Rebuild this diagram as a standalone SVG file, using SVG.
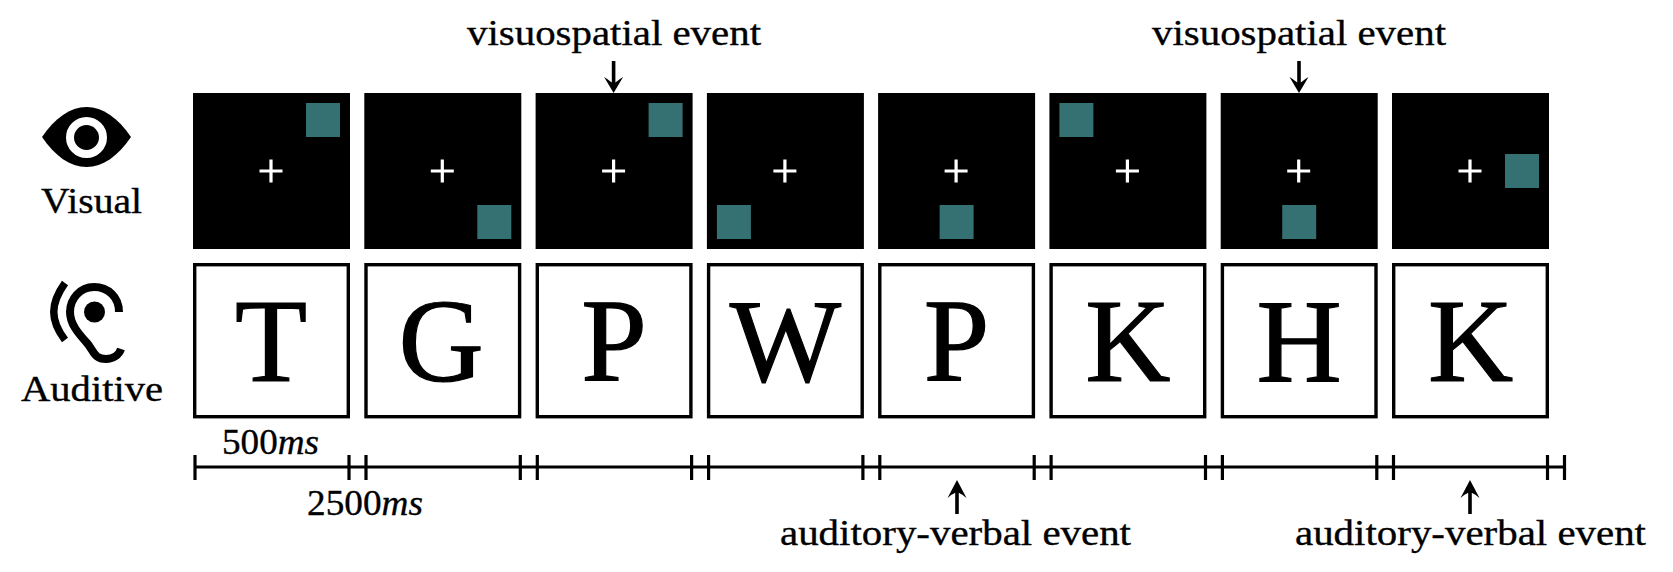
<svg xmlns="http://www.w3.org/2000/svg" width="1673" height="572" viewBox="0 0 1673 572">
<style>
text{font-family:"Liberation Serif","DejaVu Serif",serif;fill:#000}
.lab{font-size:36px;stroke:#000;stroke-width:.35}
.big{font-size:118px;text-anchor:middle;stroke:#000;stroke-width:1.2}
.v{fill:#000}
.sq{fill:#357172}
.cr{stroke:#fff;stroke-width:3.2;fill:none}
.a{fill:#fff;stroke:#000;stroke-width:3.4}
.tl{stroke:#000;stroke-width:3.2;fill:none}
.ar{stroke:#000;stroke-width:3.6;fill:none}
.ah{fill:#000}
</style>
<defs>
<g id="cross"><path class="cr" d="M-11.500 0H11.500M0 -11.500V11.500"/></g>
<path id="adown" class="ah" d="M0 33L-9.500 17C-5 20-2 22 0 24C2 22 5 20 9.500 17Z"/>
<path id="aup" class="ah" d="M0 0L-9.500 18C-5 14-2 13 0 12C2 13 5 14 9.500 18Z"/>
</defs>
<g id="icon-visual">
<path d="M42 137C55 118 70 107 86.500 107C103 107 118 118 131 137C118 156 103 167 86.500 167C70 167 55 156 42 137Z" fill="#000"/>
<circle cx="86.500" cy="137.500" r="16.500" fill="#000" stroke="#fff" stroke-width="8"/>
<text class="lab" x="41" y="213" textLength="101" lengthAdjust="spacingAndGlyphs">Visual</text>
</g>
<g id="icon-auditive">
<path d="M65 283C50 304 50 320 65 340" fill="none" stroke="#000" stroke-width="7.500"/>
<path d="M119 312C119 297 108 287 94 287C80 287 70 299 70 312C70 325 80 335 87 343C94 351 94 359 106 359C113 359 119 355 121 349" fill="none" stroke="#000" stroke-width="8"/>
<circle cx="94.500" cy="312" r="10.500" fill="#000"/>
<text class="lab" x="21" y="401" textLength="142" lengthAdjust="spacingAndGlyphs">Auditive</text>
</g>
<g id="frame-1"><rect class="v" x="193" y="93" width="157" height="156"/><rect class="sq" x="306" y="103" width="34" height="34"/><use href="#cross" x="271" y="171"/><rect class="a" x="194.700" y="264.700" width="153.600" height="152"/><text class="big" x="271" y="381">T</text></g>
<g id="frame-2"><rect class="v" x="364.300" y="93" width="157" height="156"/><rect class="sq" x="477.300" y="205" width="34" height="34"/><use href="#cross" x="442.300" y="171"/><rect class="a" x="366" y="264.700" width="153.600" height="152"/><text class="big" x="441" y="381">G</text></g>
<g id="frame-3"><rect class="v" x="535.600" y="93" width="157" height="156"/><rect class="sq" x="648.600" y="103" width="34" height="34"/><use href="#cross" x="613.600" y="171"/><rect class="a" x="537.300" y="264.700" width="153.600" height="152"/><text class="big" x="614.100" y="381">P</text></g>
<g id="frame-4"><rect class="v" x="706.900" y="93" width="157" height="156"/><rect class="sq" x="716.900" y="205" width="34" height="34"/><use href="#cross" x="784.900" y="171"/><rect class="a" x="708.600" y="264.700" width="153.600" height="152"/><text class="big" x="785.400" y="381">W</text></g>
<g id="frame-5"><rect class="v" x="878.100" y="93" width="157" height="156"/><rect class="sq" x="939.600" y="205" width="34" height="34"/><use href="#cross" x="956.100" y="171"/><rect class="a" x="879.800" y="264.700" width="153.600" height="152"/><text class="big" x="956.600" y="381">P</text></g>
<g id="frame-6"><rect class="v" x="1049.400" y="93" width="157" height="156"/><rect class="sq" x="1059.400" y="103" width="34" height="34"/><use href="#cross" x="1127.400" y="171"/><rect class="a" x="1051.100" y="264.700" width="153.600" height="152"/><text class="big" x="1127.900" y="381">K</text></g>
<g id="frame-7"><rect class="v" x="1220.700" y="93" width="157" height="156"/><rect class="sq" x="1282.200" y="205" width="34" height="34"/><use href="#cross" x="1298.700" y="171"/><rect class="a" x="1222.400" y="264.700" width="153.600" height="152"/><text class="big" x="1299.200" y="381">H</text></g>
<g id="frame-8"><rect class="v" x="1392" y="93" width="157" height="156"/><rect class="sq" x="1505" y="154" width="34" height="34"/><use href="#cross" x="1470" y="171"/><rect class="a" x="1393.700" y="264.700" width="153.600" height="152"/><text class="big" x="1470.500" y="381">K</text></g>
<g id="connectors">
<path class="tl" d="M195 467H1565M195 455V480M349 455V480M366 455V480M520.300 455V480M537.300 455V480M691.600 455V480M708.600 455V480M862.900 455V480M879.800 455V480M1034.200 455V480M1051.100 455V480M1205.500 455V480M1222.400 455V480M1376.800 455V480M1393.500 455V480M1547.500 455V480M1564.500 455V480"/>
<path class="ar" d="M613.600 61V85M1299 61V85M957 490V514M1470 490V514"/>
<use href="#adown" x="613.600" y="60"/>
<use href="#adown" x="1299" y="60"/>
<use href="#aup" x="957" y="480"/>
<use href="#aup" x="1470" y="480"/>
</g>
<g id="labels">
<text class="lab" x="467" y="45" textLength="294" lengthAdjust="spacingAndGlyphs">visuospatial event</text>
<text class="lab" x="1152" y="45" textLength="294" lengthAdjust="spacingAndGlyphs">visuospatial event</text>
<text class="lab" x="780" y="545" textLength="351" lengthAdjust="spacingAndGlyphs">auditory-verbal event</text>
<text class="lab" x="1295" y="545" textLength="351" lengthAdjust="spacingAndGlyphs">auditory-verbal event</text>
<text class="lab" x="222" y="454" textLength="97" lengthAdjust="spacingAndGlyphs">500<tspan font-style="italic">ms</tspan></text>
<text class="lab" x="307" y="515" textLength="116" lengthAdjust="spacingAndGlyphs">2500<tspan font-style="italic">ms</tspan></text>
</g>
</svg>
